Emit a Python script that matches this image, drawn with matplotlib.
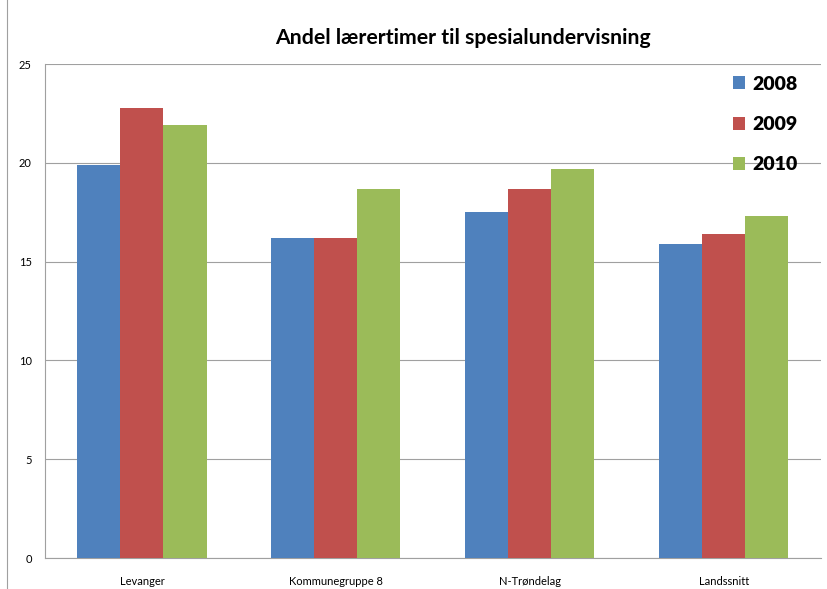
import numpy as np
import matplotlib.pyplot as plt
from matplotlib.lines import Line2D

# data
categories = ['Levanger', 'Kommunegruppe 8', 'N-Trøndelag', 'Landssnitt']
years = ['2008', '2009', '2010']
v2008 = [19.9, 16.2, 17.5, 15.9]
v2009 = [22.8, 16.2, 18.7, 16.4]
v2010 = [21.9, 18.7, 19.7, 17.3]

colors = ['#4F81BD', '#C0504D', '#9BBB59']

plt.rcParams['font.family'] = ['Lato', 'DejaVu Sans']

fig = plt.figure(figsize=(8.27, 5.89), dpi=100)
ax = fig.add_axes([0.0544, 0.0526, 0.938, 0.8384])

x = np.arange(len(categories))
w = 0.222
for i, (vals, yr) in enumerate(zip([v2008, v2009, v2010], years)):
    ax.bar(x + (i - 1) * w, vals, width=w, color=colors[i], label=yr, zorder=3)

ax.set_xlim(-0.5, len(categories) - 0.5)
ax.set_ylim(0, 25)
ax.set_yticks([0, 5, 10, 15, 20, 25])
ax.set_xticks(x)
ax.set_xticklabels(categories, fontsize=8)
ax.tick_params(axis='y', labelsize=8, length=0, pad=9.5)
ax.tick_params(axis='x', length=0, pad=13)
ax.yaxis.grid(True, color='#a0a0a0', linewidth=0.8, zorder=0)

for s in ['top', 'right']:
    ax.spines[s].set_visible(False)
ax.spines['left'].set_color('#a0a0a0')
ax.spines['bottom'].set_color('#a0a0a0')

fig.text(0.56, 0.935, 'Andel lærertimer til spesialundervisning',
         ha='center', va='center', fontsize=15.3, fontweight='bold')

leg = ax.legend(loc='upper left', bbox_to_anchor=(0.864, 1.012), frameon=False,
                prop={'size': 14, 'weight': 'heavy'}, handlelength=0.65,
                handleheight=0.65, handletextpad=0.35, labelspacing=1.2)

# chart area border on the left
fig.add_artist(Line2D([0.0085, 0.0085], [0, 1], color='#a0a0a0', linewidth=0.8,
                      transform=fig.transFigure))

fig.savefig('out.png', dpi=100)
